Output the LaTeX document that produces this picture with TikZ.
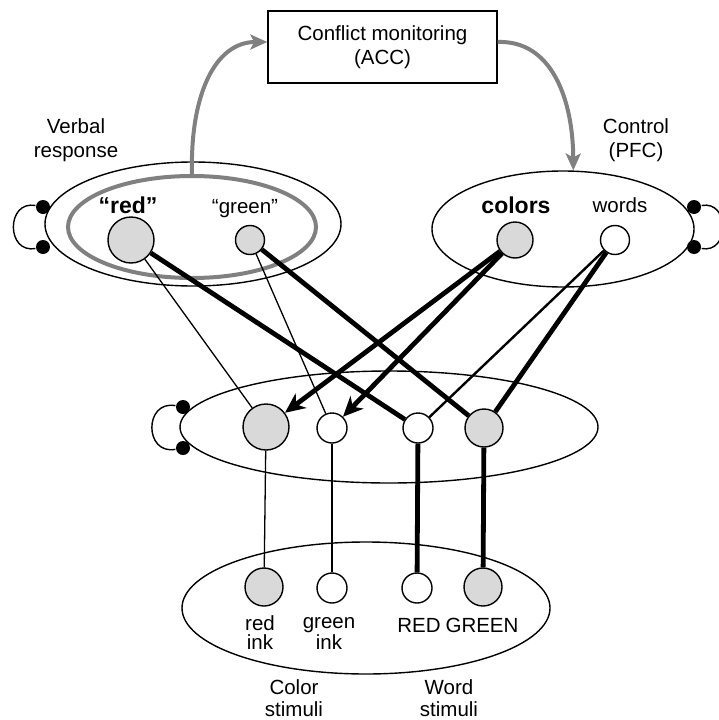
\documentclass[tikz,border=0pt]{standalone}
\usepackage{fontspec}
\setmainfont{Liberation Sans}
\usetikzlibrary{shapes.geometric}
\usetikzlibrary{arrows.meta}
\definecolor{unitgray}{gray}{0.85}
\definecolor{monitorgray}{gray}{0.5}

\begin{document}
\begin{tikzpicture}[x=1pt, y=-1pt, line width=1.4pt, font=\fontsize{20.5}{24}\selectfont,
  layer/.style={ellipse, draw, inner sep=0pt},
  unit/.style={circle, draw, fill=#1, inner sep=0pt, line width=1.4pt},
  dot/.style={circle, fill=black, inner sep=0pt, minimum size=14pt},
  weak/.style={line width=1.3pt},
  medium/.style={line width=2.4pt},
  strong/.style={line width=4.8pt},
  bias/.style={strong, -{Stealth[length=20pt,width=18pt,inset=6pt]}},
  monitor/.style={draw=monitorgray, line width=4pt, -{Stealth[length=17pt,width=15pt,inset=4pt]}},
  big/.style={font=\fontsize{23}{26}\selectfont\bfseries}]
  \useasboundingbox (0,0) rectangle (719,720);
  \node[layer, minimum width=296pt, minimum height=124pt] (resp) at (193,224) {};
  \node[layer, minimum width=262pt, minimum height=116pt] (ctrl) at (563,229) {};
  \node[layer, minimum width=418pt, minimum height=112pt] (hid) at (389,427) {};
  \node[layer, minimum width=368pt, minimum height=132pt] (stim) at (366,608) {};
  \node[ellipse, draw=monitorgray, line width=4pt, inner sep=0pt, minimum width=248pt, minimum height=102pt] (conf) at (192,227) {};
  \node[draw, minimum width=229pt, minimum height=72pt, align=center] (acc) at (382.5,47) {Conflict monitoring\\(ACC)};

  \node[align=center] (verbal) at (76,140) {Verbal\\response};
  \node[align=center] (control) at (636,140) {Control\\(PFC)};

  \node[unit=unitgray, minimum size=46pt] (rRed) at (131,240) {};
  \node[unit=unitgray, minimum size=29pt] (rGreen) at (250,240) {};
  \node[unit=unitgray, minimum size=36pt] (cColors) at (515,240) {};
  \node[unit=white, minimum size=29pt] (cWords) at (615,240) {};
  \node[big, anchor=base] (lRed) at (128,213) {“red”};
  \node[anchor=base] (lGreen) at (245,213) {“green”};
  \node[big, anchor=base] (lColors) at (516,213) {colors};
  \node[anchor=base] (lWords) at (620,212) {words};

  \node[unit=unitgray, minimum size=46pt] (h1) at (266,427) {};
  \node[unit=white, minimum size=30pt] (h2) at (332,428) {};
  \node[unit=white, minimum size=30pt] (h3) at (418,428) {};
  \node[unit=unitgray, minimum size=38pt] (h4) at (484,428) {};

  \node[unit=unitgray, minimum size=38pt] (sRedInk) at (264,587) {};
  \node[unit=white, minimum size=30pt] (sGreenInk) at (332,588) {};
  \node[unit=white, minimum size=30pt] (sRedWord) at (417,588) {};
  \node[unit=unitgray, minimum size=38pt] (sGreenWord) at (483,587) {};
  \node[align=center, font=\fontsize{20.5}{19}\selectfont, anchor=base] (lRedInk) at (260,649) {red\\ink};
  \node[align=center, font=\fontsize{20.5}{19}\selectfont, anchor=base] (lGreenInk) at (329,649) {green\\ink};
  \node[anchor=base] (lRedWord) at (419,632) {RED};
  \node[anchor=base] (lGreenWord) at (482,632) {GREEN};
  \node[align=center, font=\fontsize{20.5}{22}\selectfont] (lColor) at (294,698) {Color\\stimuli};
  \node[align=center, font=\fontsize{20.5}{22}\selectfont] (lWord) at (449,698) {Word\\stimuli};

  \node[dot] (dR1) at (43,207) {};
  \node[dot] (dR2) at (43,247) {};
  \node[dot] (dC1) at (694,207) {};
  \node[dot] (dC2) at (694,247) {};
  \node[dot] (dH1) at (183,407) {};
  \node[dot] (dH2) at (183,448) {};
  \draw (dR1) .. controls (6,200) and (6,254) .. (dR2);
  \draw (dC1) .. controls (730,200) and (730,254) .. (dC2);
  \draw (dH1) .. controls (144,400) and (144,455) .. (dH2);

  \draw[monitor] (conf.north) .. controls (190,95) and (215,42) .. ([yshift=5pt]acc.west);
  \draw[monitor] ([yshift=5pt]acc.east) .. controls (552,40) and (573,100) .. (ctrl.80);

  \draw[weak] (rRed) -- (h1);
  \draw[strong] (rRed) -- (h3);
  \draw[weak] (rGreen) -- (h2);
  \draw[strong] (rGreen) -- (h4);
  \draw[bias] (cColors) -- (h1);
  \draw[bias] (cColors) -- (h2);
  \draw[medium] (cWords) -- (h3);
  \draw[strong] (cWords) -- (h4);

  \draw[weak] (h1) -- (sRedInk);
  \draw[weak] (h2) -- (sGreenInk);
  \draw[strong] (h3) -- (sRedWord);
  \draw[strong] (h4) -- (sGreenWord);
\end{tikzpicture}
\end{document}
